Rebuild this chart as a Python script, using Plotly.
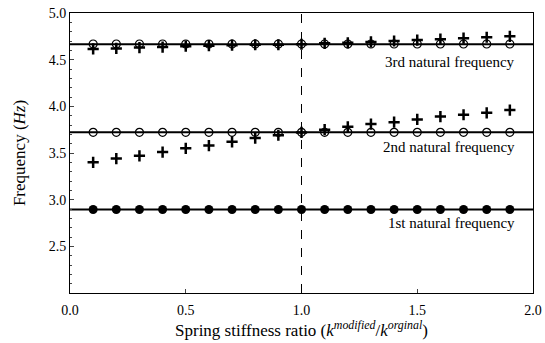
import plotly.graph_objects as go

ratio = [0.1, 0.2, 0.3, 0.4, 0.5, 0.6, 0.7, 0.8, 0.9, 1.0,
         1.1, 1.2, 1.3, 1.4, 1.5, 1.6, 1.7, 1.8, 1.9]

f1_ref = 2.895
f2_ref = 3.722
f3_ref = 4.665

f1_circle = [2.895] * 19
f2_circle = [3.722] * 19
f3_circle = [4.668] * 19

f2_plus = [3.40, 3.44, 3.47, 3.51, 3.55, 3.58, 3.62, 3.66, 3.69, 3.72,
           3.75, 3.78, 3.81, 3.83, 3.86, 3.89, 3.91, 3.93, 3.96]
f3_plus = [4.615, 4.62, 4.63, 4.635, 4.645, 4.65, 4.655, 4.66, 4.66, 4.665,
           4.675, 4.68, 4.69, 4.70, 4.71, 4.72, 4.73, 4.74, 4.75]

labels = ["1st natural frequency", "2nd natural frequency", "3rd natural frequency"]
label_y = [2.75, 3.565, 4.48]

font = "Liberation Serif, Times New Roman, serif"

fig = go.Figure()

for ref in [f1_ref, f2_ref, f3_ref]:
    fig.add_trace(go.Scatter(x=[0, 2], y=[ref, ref], mode="lines",
                             line=dict(color="black", width=2), showlegend=False))

fig.add_trace(go.Scatter(x=ratio, y=f2_plus, mode="markers",
                         marker=dict(symbol="cross-thin", size=8, color="black",
                                     line=dict(width=2.5, color="black")), showlegend=False))
fig.add_trace(go.Scatter(x=ratio, y=f3_plus, mode="markers",
                         marker=dict(symbol="cross-thin", size=8, color="black",
                                     line=dict(width=2.5, color="black")), showlegend=False))

for vals in [f2_circle, f3_circle]:
    fig.add_trace(go.Scatter(x=ratio, y=vals, mode="markers",
                             marker=dict(symbol="circle-open", size=8, color="black",
                                         line=dict(width=1.2, color="black")), showlegend=False))

fig.add_trace(go.Scatter(x=ratio, y=f1_circle, mode="markers",
                         marker=dict(symbol="circle", size=9, color="black"), showlegend=False))

fig.add_shape(type="line", x0=1.0, x1=1.0, y0=2.0, y1=5.0, xref="x", yref="y",
              line=dict(color="black", width=1, dash="dash"))

for t, yv in zip(labels, label_y):
    fig.add_annotation(x=1.93, y=yv, text=t, showarrow=False, xanchor="right",
                       font=dict(family=font, size=15, color="black"))

fig.update_layout(
    width=545, height=343,
    margin=dict(l=70, r=12, t=13, b=50),
    plot_bgcolor="white", paper_bgcolor="white",
    font=dict(family=font, size=14, color="black"),
)
fig.update_xaxes(range=[0, 2], tickvals=[0, 0.5, 1.0, 1.5, 2.0],
                 ticktext=["0.0", "0.5", "1.0", "1.5", "2.0"],
                 ticks="inside", ticklen=4, showgrid=False, zeroline=False,
                 showline=True, linecolor="black", linewidth=1, mirror=True,
                 automargin=False, ticklabeloverflow="allow", ticklabelstandoff=4,
                 title=dict(text="Spring stiffness ratio (<i>k</i><sup><i>modified</i></sup>/<i>k</i><sup><i>orginal</i></sup>)",
                            font=dict(family=font, size=17), standoff=0))
fig.update_yaxes(range=[2.0, 5.0], tickvals=[2.5, 3.0, 3.5, 4.0, 4.5, 5.0],
                 ticktext=["2.5", "3.0", "3.5", "4.0", "4.5", "5.0"],
                 ticks="inside", ticklen=4, showgrid=False, zeroline=False,
                 showline=True, linecolor="black", linewidth=1, mirror=True,
                 automargin=False, ticklabeloverflow="allow",
                 minor=dict(ticks="inside", ticklen=2, dtick=0.1),
                 title=dict(text="Frequency (<i>Hz</i>)",
                            font=dict(family=font, size=17), standoff=18))

fig.write_html("out.html", config={"displayModeBar": False},
               post_script="document.body.style.margin='0';")
